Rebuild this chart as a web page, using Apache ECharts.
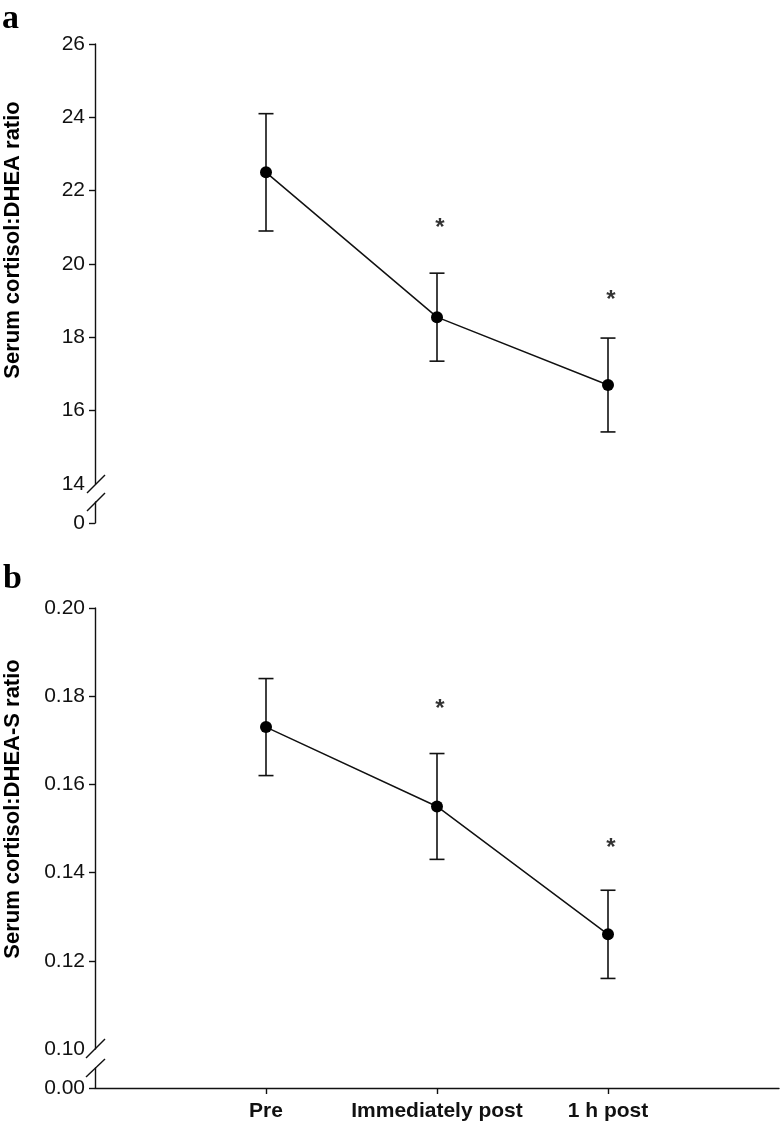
<!DOCTYPE html>
<html>
<head>
<meta charset="utf-8">
<script src="https://cdn.jsdelivr.net/npm/echarts/dist/echarts.min.js"></script>
<style>
  html, body { margin: 0; padding: 0; background: #fff; }
  #chart { width: 783px; height: 1131px; }
</style>
</head>
<body>
<div id="chart"></div>
<script>
// ---- data ----
const categories = ['Pre', 'Immediately post', '1 h post'];
const ratioDHEA = [22.5, 18.55, 16.7];
const errDHEA = [1.6, 1.2, 1.28];
const starDHEA = [null, 21.05, 19.1];
const ratioDHEAS = [0.173, 0.155, 0.126];
const errDHEAS = [0.011, 0.012, 0.010];
const starDHEAS = [null, 0.1777, 0.1461];
const ticksA = [14, 16, 18, 20, 22, 24, 26];
const ticksB = [0.10, 0.12, 0.14, 0.16, 0.18, 0.20];

const FONT = 'Liberation Sans, Arial, Helvetica, sans-serif';
const chart = echarts.init(document.getElementById('chart'));

function pts(vals) { return vals.map((v, i) => [i + 1, v]); }
function errs(vals, e) { return vals.map((v, i) => [i + 1, v - e[i], v + e[i]]); }
function stars(vals) { return vals.map((v, i) => v == null ? null : [i + 1, v]).filter(d => d); }

function errorSeries(data, xi, yi) {
  return {
    type: 'custom', xAxisIndex: xi, yAxisIndex: yi, data: data, z: 2,
    renderItem: function (params, api) {
      const lo = api.coord([api.value(0), api.value(1)]);
      const hi = api.coord([api.value(0), api.value(2)]);
      const w = 7.5;
      const st = { stroke: '#111', lineWidth: 1.6 };
      return {
        type: 'group', children: [
          { type: 'line', shape: { x1: lo[0], y1: lo[1], x2: hi[0], y2: hi[1] }, style: st },
          { type: 'line', shape: { x1: lo[0] - w, y1: lo[1], x2: lo[0] + w, y2: lo[1] }, style: st },
          { type: 'line', shape: { x1: hi[0] - w, y1: hi[1], x2: hi[0] + w, y2: hi[1] }, style: st }
        ]
      };
    }
  };
}
function lineSeries(data, xi, yi) {
  return {
    type: 'line', xAxisIndex: xi, yAxisIndex: yi, data: data, z: 3,
    symbol: 'circle', symbolSize: 12, color: '#000',
    itemStyle: { color: '#000' }, lineStyle: { color: '#111', width: 1.5 },
    animation: false
  };
}
function starSeries(data, xi, yi) {
  return {
    type: 'scatter', xAxisIndex: xi, yAxisIndex: yi, data: data, z: 4,
    symbolSize: 1, itemStyle: { color: 'rgba(0,0,0,0)' },
    label: { show: true, position: 'inside', formatter: '*', offset: [3, 3],
             color: '#000', fontSize: 24, fontWeight: 'bold', fontFamily: FONT }
  };
}

const axisLine = { show: true, lineStyle: { color: '#111', width: 1.4 } };
const tickStyle = { lineStyle: { color: '#111', width: 1.4 }, length: 6, inside: false };
const labelStyle = { color: '#111', fontSize: 21, fontFamily: FONT, margin: 10 };

function hiddenX(gi) {
  return { type: 'value', gridIndex: gi, min: 0, max: 4, show: false };
}

const option = {
  animation: false,
  backgroundColor: '#fff',
  grid: [
    { left: 95, right: 4, top: 44, height: 440 },
    { left: 95, right: 4, top: 502, height: 21 },
    { left: 95, right: 4, top: 608, height: 441 },
    { left: 95, right: 4, top: 1068, height: 20 }
  ],
  xAxis: [
    hiddenX(0), hiddenX(1), hiddenX(2),
    {
      type: 'value', gridIndex: 3, min: 0, max: 4, interval: 1,
      axisLine: axisLine,
      axisTick: Object.assign({ customValues: [1, 2, 3] }, tickStyle),
      axisLabel: {
        customValues: [1, 2, 3], formatter: v => categories[Math.round(v) - 1] || '',
        color: '#111', fontSize: 21, fontWeight: 'bold', fontFamily: FONT, margin: 13
      },
      splitLine: { show: false }
    }
  ],
  yAxis: [
    {
      type: 'value', gridIndex: 0, min: 14, max: 26, interval: 2,
      axisLine: axisLine,
      axisTick: Object.assign({ customValues: ticksA.slice(1) }, tickStyle),
      axisLabel: Object.assign({ customValues: ticksA }, labelStyle),
      splitLine: { show: false }
    },
    {
      type: 'value', gridIndex: 1, min: 0, max: 1,
      axisLine: axisLine,
      axisTick: Object.assign({ customValues: [0] }, tickStyle),
      axisLabel: Object.assign({ customValues: [0], formatter: v => '0' }, labelStyle),
      splitLine: { show: false }
    },
    {
      type: 'value', gridIndex: 2, min: 0.10, max: 0.20, interval: 0.02,
      axisLine: axisLine,
      axisTick: Object.assign({ customValues: ticksB.slice(1) }, tickStyle),
      axisLabel: Object.assign({ customValues: ticksB, formatter: v => v.toFixed(2) }, labelStyle),
      splitLine: { show: false }
    },
    {
      type: 'value', gridIndex: 3, min: 0, max: 1,
      axisLine: axisLine,
      axisTick: Object.assign({ customValues: [0] }, tickStyle),
      axisLabel: Object.assign({ customValues: [0], formatter: v => '0.00' }, labelStyle),
      splitLine: { show: false }
    }
  ],
  series: [
    errorSeries(errs(ratioDHEA, errDHEA), 0, 0),
    lineSeries(pts(ratioDHEA), 0, 0),
    starSeries(stars(starDHEA), 0, 0),
    errorSeries(errs(ratioDHEAS, errDHEAS), 2, 2),
    lineSeries(pts(ratioDHEAS), 2, 2),
    starSeries(stars(starDHEAS), 2, 2)
  ],
  graphic: [
    { type: 'text', x: 2, y: 2, style: { text: 'a', font: 'bold 34px "Liberation Serif", "Times New Roman", serif', fill: '#000' } },
    { type: 'text', x: 3, y: 562, style: { text: 'b', font: 'bold 34px "Liberation Serif", "Times New Roman", serif', fill: '#000' } },
    { type: 'text', x: 13, y: 240, rotation: Math.PI / 2,
      style: { text: 'Serum cortisol:DHEA ratio', font: 'bold 22px ' + FONT, fill: '#000', textAlign: 'center', textVerticalAlign: 'middle' } },
    { type: 'text', x: 13, y: 809, rotation: Math.PI / 2,
      style: { text: 'Serum cortisol:DHEA-S ratio', font: 'bold 22px ' + FONT, fill: '#000', textAlign: 'center', textVerticalAlign: 'middle' } },
    { type: 'line', shape: { x1: 87, y1: 493, x2: 105, y2: 475 }, style: { stroke: '#111', lineWidth: 1.4 } },
    { type: 'line', shape: { x1: 87, y1: 511, x2: 105, y2: 493 }, style: { stroke: '#111', lineWidth: 1.4 } },
    { type: 'line', shape: { x1: 86, y1: 1058, x2: 105, y2: 1039 }, style: { stroke: '#111', lineWidth: 1.4 } },
    { type: 'line', shape: { x1: 86, y1: 1077, x2: 105, y2: 1059 }, style: { stroke: '#111', lineWidth: 1.4 } }
  ]
};
chart.setOption(option);
</script>
</body>
</html>
